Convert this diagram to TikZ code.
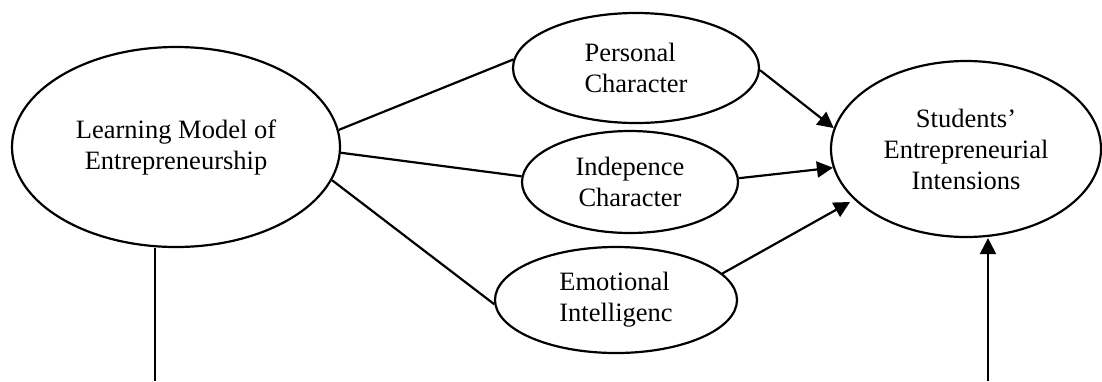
\documentclass[tikz,border=0pt]{standalone}
\usepackage{fontspec}
\setmainfont{Liberation Serif}
\usetikzlibrary{shapes.geometric,arrows.meta}

\begin{document}
\begin{tikzpicture}[x=0.5pt, y=-0.5pt,
		construct/.style={shape=ellipse, draw=black, line width=1.1pt, inner sep=0pt, font=\fontsize{13.25}{15.5}\selectfont},
		link/.style={line width=1.1pt},
		arr/.style={line width=1.1pt, -{Triangle[length=8pt, width=8pt]}}]
			\useasboundingbox (0,0) rectangle (1102,381);

			\node[construct, minimum width=164pt, minimum height=100pt, align=center] (lme) at (176,147) {Learning Model of\\Entrepreneurship};
			\node[construct, minimum width=123pt, minimum height=55pt, align=left] (pc) at (636,68) {Personal\\Character};
			\node[construct, minimum width=108pt, minimum height=51pt, align=center] (ic) at (630,182) {Indepence\\Character};
			\node[construct, minimum width=121pt, minimum height=53pt, align=left] (ei) at (616,300) {Emotional\\Intelligenc};
			\node[construct, minimum width=135pt, minimum height=88pt, align=center] (sei) at (966,149) {Students'\\Entrepreneurial\\Intensions};

			\coordinate (lmeout) at (155,381);
			\coordinate (seiin) at (988,381);
			\coordinate (eitip) at (850,202);

			\path [link] (lme.6) edge (pc.176);
			\path [link] (lme.-2) edge (ic.177);
			\path [link] (lme.-12) edge (ei.182);
			\path [link] (lme.south -| lmeout) edge (lmeout);

			\path [arr] (pc.-1) edge (sei.171);
			\path [arr] (ic.2) edge (sei.188);
			\path [arr] (ei.14) edge (eitip);
			\path [arr] (seiin) edge (seiin |- sei.south);
		\end{tikzpicture}
\end{document}
